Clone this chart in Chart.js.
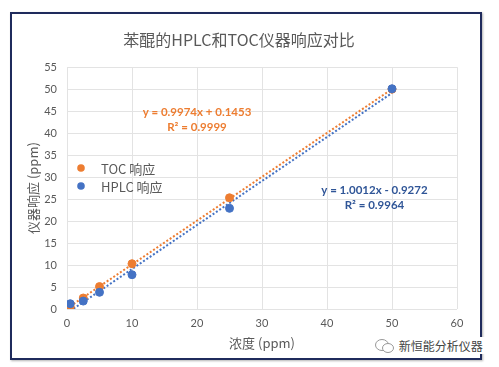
<!DOCTYPE html>
<html>
<head>
<meta charset="utf-8">
<script src="https://cdn.jsdelivr.net/npm/chart.js@4"></script>
<style>
  body { margin: 0; background: #fff; }
  #wrap { position: relative; width: 499px; height: 367px; }
  #frame {
    position: absolute; left: 10px; top: 12px; width: 468px; height: 344px;
    border: 2px solid #1f2b5c; box-shadow: 1px 1px 2px rgba(0,0,0,0.3);
  }
  canvas { position: absolute; left: 0; top: 0; }
  #mark {
    position: absolute; left: 372px; top: 337px;
    font: 12px "Noto Sans CJK SC", sans-serif; color: #444;
    background: #fff; padding: 0 2px;
  }
</style>
</head>
<body>
<div id="wrap">
  <div id="frame"></div>
  <canvas id="c" width="499" height="367"></canvas>
  <div id="mark"><svg width="22" height="16" style="vertical-align:-3px">
    <ellipse cx="8" cy="7" rx="6.5" ry="5.5" fill="none" stroke="#999" stroke-width="1"/>
    <ellipse cx="14" cy="10" rx="5.5" ry="4.5" fill="#fff" stroke="#999" stroke-width="1"/>
  </svg> 新恒能分析仪器</div>
</div>
<script>
const concentrations = [0.5, 2.5, 5, 10, 25, 50];
const tocResponse = [0.5, 2.5, 5.1, 10.3, 25.3, 50.0];
const hplcResponse = [1.2, 1.8, 3.8, 7.8, 22.9, 50.1];
const seriesNames = ['TOC 响应', 'HPLC 响应'];
const seriesColors = ['#ED7D31', '#4472C4'];
const fitSlope = [0.9974, 1.0012];
const fitIntercept = [0.1453, -0.9272];
const fitLabels = [
  ['y = 0.9974x + 0.1453', 'R² = 0.9999'],
  ['y = 1.0012x - 0.9272', 'R² = 0.9964']
];
const labelColors = ['#ED7D31', '#2F5597'];
const labelAnchors = [[20, 44.8], [47.3, 26.9]];

const pts = ys => concentrations.map((x, i) => ({ x: x, y: ys[i] }));
const fitLine = k => [concentrations[0], concentrations[concentrations.length - 1]]
  .map(x => ({ x: x, y: fitSlope[k] * x + fitIntercept[k] }));

const extras = {
  id: 'extras',
  afterDraw(chart) {
    const ctx = chart.ctx;
    const xs = chart.scales.x, ys = chart.scales.y;
    ctx.save();
    // equation labels
    ctx.textAlign = 'center';
    ctx.textBaseline = 'middle';
    ctx.font = 'bold 11.5px Lato, sans-serif';
    fitLabels.forEach((lines, k) => {
      const px = xs.getPixelForValue(labelAnchors[k][0]);
      const py = ys.getPixelForValue(labelAnchors[k][1]);
      ctx.fillStyle = labelColors[k];
      lines.forEach((t, j) => ctx.fillText(t, px, py + j * 15));
    });
    // legend
    ctx.textAlign = 'left';
    ctx.font = '13px "Noto Sans CJK SC", sans-serif';
    seriesNames.forEach((name, k) => {
      const y = 168 + k * 18;
      ctx.fillStyle = seriesColors[k];
      ctx.beginPath();
      ctx.arc(81, y, 3.8, 0, Math.PI * 2);
      ctx.fill();
      ctx.fillStyle = '#595959';
      ctx.fillText(name, 101, y + 1);
    });
    ctx.restore();
  }
};

new Chart(document.getElementById('c'), {
  type: 'scatter',
  data: {
    datasets: [
      { label: seriesNames[0], data: pts(tocResponse), backgroundColor: seriesColors[0],
        borderColor: seriesColors[0], pointRadius: 4, pointHoverRadius: 4, order: 1 },
      { label: seriesNames[1], data: pts(hplcResponse), backgroundColor: seriesColors[1],
        borderColor: seriesColors[1], pointRadius: 4, pointHoverRadius: 4, order: 0 },
      { label: 'toc fit', data: fitLine(0), showLine: true, pointRadius: 0, order: 3,
        borderColor: seriesColors[0], borderWidth: 2, borderDash: [2, 2] },
      { label: 'hplc fit', data: fitLine(1), showLine: true, pointRadius: 0, order: 2,
        borderColor: seriesColors[1], borderWidth: 2, borderDash: [2, 2] }
    ]
  },
  options: {
    responsive: false,
    animation: false,
    layout: { padding: { left: 21, right: 42, top: 0, bottom: 12 } },
    plugins: {
      legend: { display: false },
      tooltip: { enabled: false },
      title: {
        display: true,
        text: '苯醌的HPLC和TOC仪器响应对比',
        color: '#595959',
        font: { family: '"Noto Sans CJK SC", sans-serif', size: 16, weight: 'normal' },
        padding: { top: 30, bottom: 18 }
      }
    },
    scales: {
      x: {
        type: 'linear', min: 0, max: 60,
        ticks: { stepSize: 10, color: '#595959', font: { family: 'Lato, sans-serif', size: 11 }, padding: 8 },
        grid: { color: '#E3E3E3', drawTicks: false },
        border: { display: false },
        title: { display: true, text: '浓度 (ppm)', color: '#595959',
          font: { family: '"Noto Sans CJK SC", sans-serif', size: 13 } },
        afterFit(s) { s.height = 46; }
      },
      y: {
        type: 'linear', min: 0, max: 55,
        ticks: { stepSize: 5, color: '#595959', font: { family: 'Lato, sans-serif', size: 11 }, padding: 10 },
        grid: { color: '#E3E3E3', drawTicks: false },
        border: { display: false },
        title: { display: true, text: '仪器响应 (ppm)', color: '#595959',
          font: { family: '"Noto Sans CJK SC", sans-serif', size: 13 } },
        afterFit(s) { s.width = 46; }
      }
    }
  },
  plugins: [extras]
});
</script>
</body>
</html>
